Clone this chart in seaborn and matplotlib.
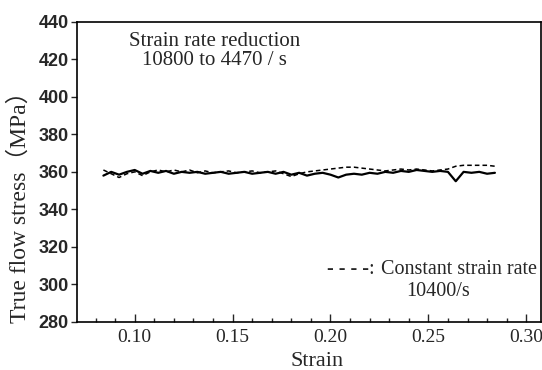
import numpy as np
import pandas as pd
import matplotlib
matplotlib.use("Agg")
import matplotlib.pyplot as plt
from matplotlib.ticker import MultipleLocator
import seaborn as sns

# strain grid shared by both curves
strain = np.round(np.arange(0.084, 0.2845, 0.004), 3)

# strain rate reduction 10800 -> 4470 /s (solid)
stress_reduction = [358, 360, 358.5, 360, 361, 359, 360.5, 359.5, 360.5, 359,
                    360, 359.5, 360, 359, 359.5, 360, 359, 359.5, 360, 359,
                    359.5, 360, 359, 360, 358.5, 359.5, 358, 359, 359.5, 358.5,
                    357, 358.5, 359, 358.5, 359.5, 359, 360, 359.5, 360.5, 360,
                    361, 360.5, 360, 360.5, 360, 355, 360, 359.5, 360, 359, 359.5]

# constant strain rate 10400 /s (dashed)
stress_constant = [361, 359, 357, 359, 360, 358, 360, 361, 360, 361,
                   360, 361, 359.5, 360.5, 359.5, 360, 360.5, 359.5, 360, 360.5,
                   359.5, 360, 360.5, 359, 357.5, 359, 360, 360.5, 361, 361.5,
                   362, 362.5, 362.5, 362, 361.5, 361, 360.5, 361, 361.5, 361,
                   361.5, 361, 360.5, 361, 361.5, 363, 363.5, 363.5, 363.5, 363.5, 363]

df = pd.concat([
    pd.DataFrame({"Strain": strain, "Stress": stress_reduction, "Test": "reduction"}),
    pd.DataFrame({"Strain": strain, "Stress": stress_constant, "Test": "constant"}),
])

sns.set_style("ticks")
serif = ["Liberation Serif", "DejaVu Serif"]
plt.rcParams["font.family"] = serif

fig = plt.figure(figsize=(5.42, 3.70), dpi=100)
ax = fig.add_axes([0.142, 0.130, 0.856, 0.811])

sns.lineplot(data=df[df["Test"] == "reduction"], x="Strain", y="Stress",
             color="black", lw=1.6, ax=ax)
sns.lineplot(data=df[df["Test"] == "constant"], x="Strain", y="Stress",
             color="black", lw=1.1, ax=ax)
ax.lines[1].set_dashes([3, 2])

ax.set_xlim(0.0705, 0.3075)
ax.set_ylim(280, 440)
ax.xaxis.set_minor_locator(MultipleLocator(0.01))
ax.set_xticks([0.10, 0.15, 0.20, 0.25, 0.30])
ax.set_xticklabels(["0.10", "0.15", "0.20", "0.25", "0.30"], fontsize=14,
                   family=serif)
ax.set_yticks(range(280, 441, 20))
ax.set_yticklabels([str(v) for v in range(280, 441, 20)], fontsize=13,
                   family=["Liberation Sans", "DejaVu Sans"], weight="bold")

ax.tick_params(axis="x", which="major", direction="in", length=6, width=1, pad=5)
ax.tick_params(axis="x", which="minor", direction="in", length=3, width=1)
ax.tick_params(axis="y", direction="out", length=4, width=1, pad=2)
for s in ax.spines.values():
    s.set_linewidth(1.2)
    s.set_color("black")

ax.set_xlabel("Strain", fontsize=16)
ax.xaxis.set_label_coords(0.517, -0.10)
ax.set_ylabel("True flow stress（MPa）", fontsize=17,
              family=["Liberation Serif", "Noto Sans CJK JP"])
ax.yaxis.set_label_coords(-0.10, 0.40)

ax.text(0.297, 0.903, "Strain rate reduction\n10800 to 4470 / s",
        transform=ax.transAxes, ha="center", va="center", fontsize=15,
        linespacing=1.0)
ax.text(0.54, 0.173, "- - - -:", transform=ax.transAxes,
        ha="left", va="center", fontsize=14.5)
ax.text(0.655, 0.173, "Constant strain rate", transform=ax.transAxes,
        ha="left", va="center", fontsize=14.5)
ax.text(0.778, 0.10, "10400/s", transform=ax.transAxes,
        ha="center", va="center", fontsize=14.5)

fig.savefig("out.png", dpi=100)
